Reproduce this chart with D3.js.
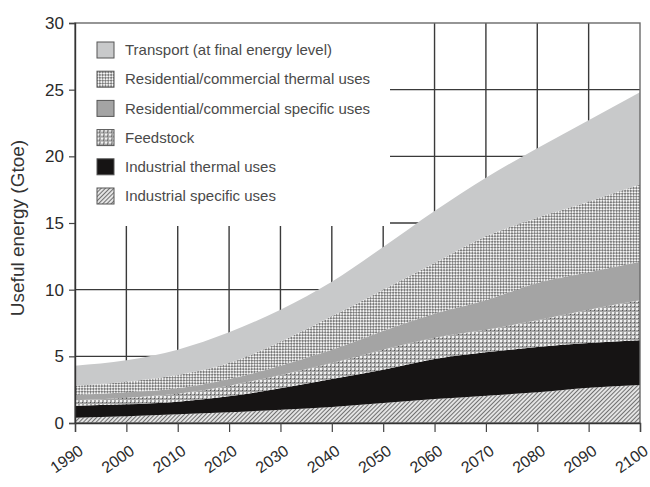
<!DOCTYPE html>
<html>
<head>
<meta charset="utf-8">
<script src="https://cdn.jsdelivr.net/npm/d3@7"></script>
<style>
  html, body { margin: 0; padding: 0; background: #fff; }
  svg { display: block; font-family: "Liberation Sans", Arial, sans-serif; }
</style>
</head>
<body>
<svg id="chart" width="650" height="487"></svg>
<script>
// ---- data ----
const years = [1990, 2000, 2010, 2020, 2030, 2040, 2050, 2060, 2070, 2080, 2090, 2100];
const industrialSpecific = [0.4, 0.5, 0.65, 0.8, 1.0, 1.2, 1.5, 1.8, 2.05, 2.3, 2.65, 2.85];
const industrialThermal  = [0.9, 0.9, 0.95, 1.2, 1.6, 2.1, 2.5, 3.0, 3.25, 3.4, 3.35, 3.35];
const feedstock          = [0.4, 0.5, 0.6, 0.8, 1.0, 1.2, 1.5, 1.6, 1.7, 2.0, 2.5, 3.0];
const resSpecific        = [0.4, 0.4, 0.4, 0.5, 0.7, 1.0, 1.4, 1.8, 2.2, 2.8, 2.8, 2.9];
const resThermal         = [0.7, 0.8, 1.0, 1.2, 1.8, 2.5, 3.1, 3.8, 4.8, 4.9, 5.3, 5.8];
const transport          = [1.5, 1.6, 1.9, 2.3, 2.4, 2.6, 3.2, 3.9, 4.4, 5.2, 6.1, 6.9];
const seriesKeys = ["indSpec", "indTherm", "feed", "resSpec", "resTherm", "transport"];
const seriesNames = {
  transport: "Transport (at final energy level)",
  resTherm: "Residential/commercial thermal uses",
  resSpec: "Residential/commercial specific uses",
  feed: "Feedstock",
  indTherm: "Industrial thermal uses",
  indSpec: "Industrial specific uses"
};
const legendOrder = ["transport", "resTherm", "resSpec", "feed", "indTherm", "indSpec"];
const yTicks = [0, 5, 10, 15, 20, 25, 30];
const xTicks = [1990, 2000, 2010, 2020, 2030, 2040, 2050, 2060, 2070, 2080, 2090, 2100];
const gridY = [5, 10, 15, 20, 25];
const gridX = [2000, 2010, 2020, 2030, 2040, 2050, 2060, 2070, 2080, 2090];
const yLabel = "Useful energy (Gtoe)";

const rows = years.map((yr, i) => ({
  year: yr,
  indSpec: industrialSpecific[i],
  indTherm: industrialThermal[i],
  feed: feedstock[i],
  resSpec: resSpecific[i],
  resTherm: resThermal[i],
  transport: transport[i]
}));

// ---- setup ----
const svg = d3.select("#chart");
const x = d3.scaleLinear().domain([1990, 2100]).range([75, 640]);
const y = d3.scaleLinear().domain([0, 30]).range([423, 23]);

// patterns
const defs = svg.append("defs");
// industrial specific: fine diagonal hatch
const p1 = defs.append("pattern").attr("id", "pIndSpec").attr("patternUnits", "userSpaceOnUse")
  .attr("width", 3).attr("height", 3).attr("patternTransform", "rotate(45)");
p1.append("rect").attr("width", 3).attr("height", 3).attr("fill", "#e4e4e4");
p1.append("rect").attr("width", 1).attr("height", 3).attr("fill", "#707070");
// feedstock: dotted
const p2 = defs.append("pattern").attr("id", "pFeed").attr("patternUnits", "userSpaceOnUse")
  .attr("width", 4).attr("height", 4);
p2.append("rect").attr("width", 4).attr("height", 4).attr("fill", "#a6a6a6");
p2.append("rect").attr("x", 0).attr("y", 0).attr("width", 2).attr("height", 2).attr("fill", "#f2f2f2");
p2.append("rect").attr("x", 2).attr("y", 2).attr("width", 1).attr("height", 1).attr("fill", "#555");
// residential thermal: diagonal checker
const p3 = defs.append("pattern").attr("id", "pResTherm").attr("patternUnits", "userSpaceOnUse")
  .attr("width", 4).attr("height", 4).attr("patternTransform", "rotate(45)");
p3.append("rect").attr("width", 4).attr("height", 4).attr("fill", "#f4f4f4");
p3.append("rect").attr("x", 0).attr("y", 0).attr("width", 2).attr("height", 2).attr("fill", "#7a7a7a");
p3.append("rect").attr("x", 2).attr("y", 2).attr("width", 2).attr("height", 2).attr("fill", "#7a7a7a");

const fills = {
  indSpec: "url(#pIndSpec)",
  indTherm: "#161414",
  feed: "url(#pFeed)",
  resSpec: "#a4a4a4",
  resTherm: "url(#pResTherm)",
  transport: "#c8c9ca"
};

// grid
const grid = svg.append("g").attr("stroke", "#3a3a3a").attr("stroke-width", 1.4);
grid.selectAll("line.h").data(gridY).join("line").attr("class", "h")
  .attr("x1", x(1990)).attr("x2", x(2100)).attr("y1", d => y(d)).attr("y2", d => y(d));
grid.selectAll("line.v").data(gridX).join("line").attr("class", "v")
  .attr("x1", d => x(d)).attr("x2", d => x(d)).attr("y1", y(30)).attr("y2", y(0));

// legend background (covers grid)
svg.append("rect").attr("x", x(1990)).attr("y", y(30)).attr("width", 315).attr("height", 203).attr("fill", "#fff");

// areas
const stack = d3.stack().keys(seriesKeys);
const stacked = stack(rows);
const area = d3.area()
  .x(d => x(d.data.year))
  .y0(d => y(d[0]))
  .y1(d => y(d[1]))
  .curve(d3.curveMonotoneX);
svg.append("g").selectAll("path").data(stacked).join("path")
  .attr("d", area)
  .attr("fill", d => fills[d.key])
  .attr("stroke", "none");

// frame
svg.append("rect").attr("x", x(1990)).attr("y", y(30)).attr("width", x(2100) - x(1990)).attr("height", y(0) - y(30))
  .attr("fill", "none").attr("stroke", "#6a6a6a").attr("stroke-width", 1.4);

// axes
const yAxis = svg.append("g").attr("transform", `translate(${x(1990)},0)`)
  .call(d3.axisLeft(y).tickValues(yTicks).tickSize(6).tickPadding(5));
yAxis.select(".domain").attr("stroke", "#333").attr("stroke-width", 1.4);
yAxis.selectAll(".tick line").attr("stroke", "#444").attr("stroke-width", 1.2);
yAxis.selectAll(".tick text").attr("font-size", 17).attr("fill", "#2a2a2a")
  .attr("font-family", "Liberation Sans, Arial, sans-serif");

const xAxis = svg.append("g").attr("transform", `translate(0,${y(0)})`)
  .call(d3.axisBottom(x).tickValues(xTicks).tickFormat(d3.format("d")).tickSize(9));
xAxis.select(".domain").attr("stroke", "#333").attr("stroke-width", 1.4);
xAxis.selectAll(".tick line").attr("stroke", "#444").attr("stroke-width", 1.2);
xAxis.selectAll(".tick text")
  .attr("font-size", 16).attr("fill", "#2a2a2a")
  .attr("font-family", "Liberation Sans, Arial, sans-serif")
  .attr("y", 0).attr("dy", "0.35em")
  .attr("text-anchor", "middle")
  .attr("transform", "translate(-9,36) rotate(-35)");

// y label
svg.append("text")
  .attr("transform", `translate(24,228) rotate(-90)`)
  .attr("text-anchor", "middle")
  .attr("font-size", 19)
  .attr("fill", "#333")
  .text(yLabel);

// legend
const lg = svg.append("g");
const legendY = d3.scalePoint().domain(legendOrder).range([50, 196]);
const item = lg.selectAll("g").data(legendOrder).join("g")
  .attr("transform", d => `translate(97,${legendY(d)})`);
item.append("rect").attr("x", 0).attr("y", -8).attr("width", 17).attr("height", 16)
  .attr("fill", d => fills[d]).attr("stroke", "#555").attr("stroke-width", 1);
item.append("text").attr("x", 28).attr("y", 0).attr("dy", "0.35em")
  .attr("font-size", 15).attr("fill", "#4a4a4a")
  .text(d => seriesNames[d]);
</script>
</body>
</html>
